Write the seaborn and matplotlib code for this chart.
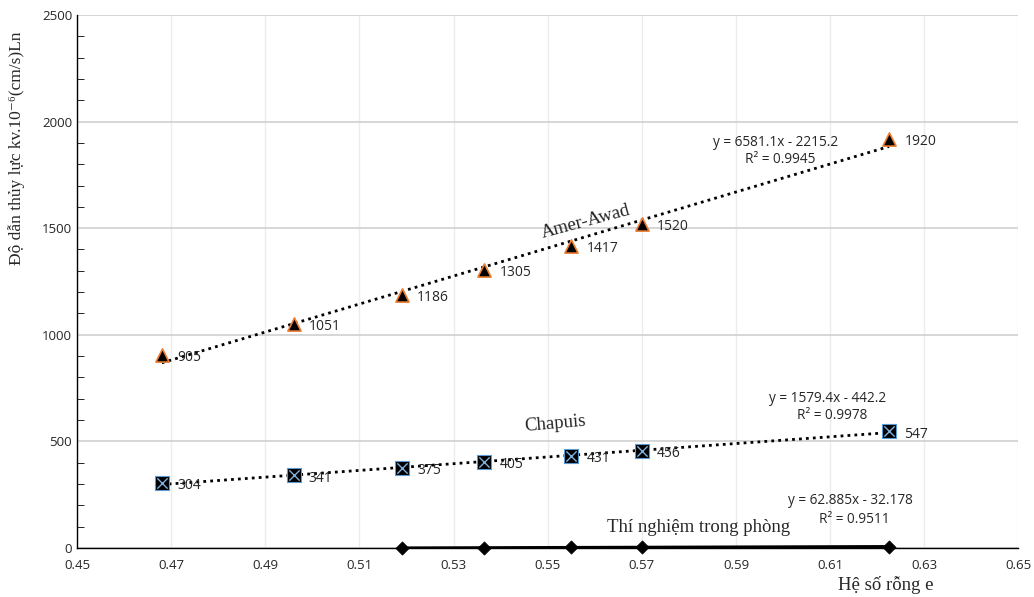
import numpy as np
import pandas as pd
import matplotlib
matplotlib.use("Agg")
import matplotlib.pyplot as plt
import seaborn as sns

# ── data ──
e_awad    = [0.468, 0.496, 0.519, 0.5365, 0.555, 0.570, 0.6225]
k_awad    = [905, 1051, 1186, 1305, 1417, 1520, 1920]

e_chapuis = [0.468, 0.496, 0.519, 0.5365, 0.555, 0.570, 0.6225]
k_chapuis = [304, 341, 375, 405, 431, 456, 547]

e_lab     = [0.519, 0.5365, 0.555, 0.570, 0.6225]
k_lab     = [0.5, 1.4, 2.9, 3.5, 7.0]

eq_awad    = ["y = 6581.1x - 2215.2", "R² = 0.9945"]
eq_chapuis = ["y = 1579.4x - 442.2", "R² = 0.9978"]
eq_lab     = ["y = 62.885x - 32.178", "R² = 0.9511"]

sns.set_style("white")
plt.rcParams["font.family"] = ["Open Sans", "DejaVu Sans"]
serif = ["Liberation Serif", "DejaVu Serif"]

fig = plt.figure(figsize=(10.34, 5.97), dpi=100)
ax = fig.add_axes([0.0745, 0.082, 0.9105, 0.893])

# trend lines
sns.regplot(x=e_awad, y=k_awad, scatter=False, ci=None, ax=ax,
            line_kws=dict(color="black", ls=(0, (1, 1.5)), lw=2))
sns.regplot(x=e_chapuis, y=k_chapuis, scatter=False, ci=None, ax=ax,
            line_kws=dict(color="black", ls=(0, (1, 1.5)), lw=2))
sns.regplot(x=e_lab, y=k_lab, scatter=False, ci=None, ax=ax,
            line_kws=dict(color="black", lw=2.2))

# markers
sns.scatterplot(x=e_awad, y=k_awad, marker="^", s=90, color="black",
                edgecolor="#ED7D31", linewidth=1.2, ax=ax, zorder=5)
sns.scatterplot(x=e_chapuis, y=k_chapuis, marker="s", s=110, color="black",
                edgecolor="#5B9BD5", linewidth=0.8, ax=ax, zorder=5)
sns.scatterplot(x=e_chapuis, y=k_chapuis, marker="x", s=55, color="#7FB2DE",
                linewidth=1.0, ax=ax, zorder=6)
sns.scatterplot(x=e_lab, y=k_lab, marker="D", s=45, color="black",
                edgecolor="black", ax=ax, zorder=5, clip_on=False)

# data labels
for xs, ys in [(e_awad, k_awad), (e_chapuis, k_chapuis)]:
    for xv, yv in zip(xs, ys):
        ax.annotate(f"{yv}", (xv, yv), xytext=(11, -2), textcoords="offset points",
                    ha="left", va="center", fontsize=10, zorder=7)

# equations
for (xv, yv, gap), lines in [((0.5983, 1900, 80), eq_awad),
                             ((0.6095, 703, 80), eq_chapuis),
                             ((0.6142, 225, 92), eq_lab)]:
    ax.text(xv, yv, lines[0], ha="center", va="center", fontsize=9.8)
    ax.text(xv + 0.001, yv - gap, lines[1], ha="center", va="center", fontsize=9.8)

# series names
ax.text(0.558, 1529, "Amer-Awad", family=serif, fontsize=13.5, rotation=15,
        ha="center", va="center")
ax.text(0.5516, 582, "Chapuis", family=serif, fontsize=13.5, rotation=5,
        ha="center", va="center")
ax.text(0.582, 98, "Thí nghiệm trong phòng", family=serif, fontsize=13.5,
        ha="center", va="center")

ax.set_xlim(0.45, 0.65)
ax.set_ylim(0, 2500)
ax.set_xticks(np.arange(0.45, 0.651, 0.02))
ax.set_xticklabels([f"{v:.2f}" for v in np.arange(0.45, 0.651, 0.02)])
ax.set_yticks(np.arange(0, 2501, 500))
ax.set_yticks(np.arange(0, 2501, 100), minor=True)
ax.tick_params(axis="both", labelsize=9.5)
ax.tick_params(axis="x", length=0, pad=8)
ax.tick_params(axis="y", which="major", direction="in", length=5, color="black")
ax.tick_params(axis="y", which="minor", direction="in", length=5, color="black",
               left=True)
ax.grid(axis="y", color="#cfcfcf", lw=1.2)
ax.grid(axis="x", color="#ececec", lw=1)

sns.despine(ax=ax)
ax.spines["left"].set_color("black")
ax.spines["bottom"].set_color("black")
ax.spines["left"].set_linewidth(1)
ax.spines["bottom"].set_linewidth(1)

ax.set_ylabel("Độ dẫn thủy lực kv.10⁻⁶(cm/s)Ln", family=serif, fontsize=12.5)
ax.yaxis.set_label_coords(-0.055, 0.75)
ax.set_xlabel("Hệ số rỗng e", family=serif, fontsize=13.5)
ax.xaxis.set_label_coords(0.859, -0.052)

fig.savefig("out.png", dpi=100)
